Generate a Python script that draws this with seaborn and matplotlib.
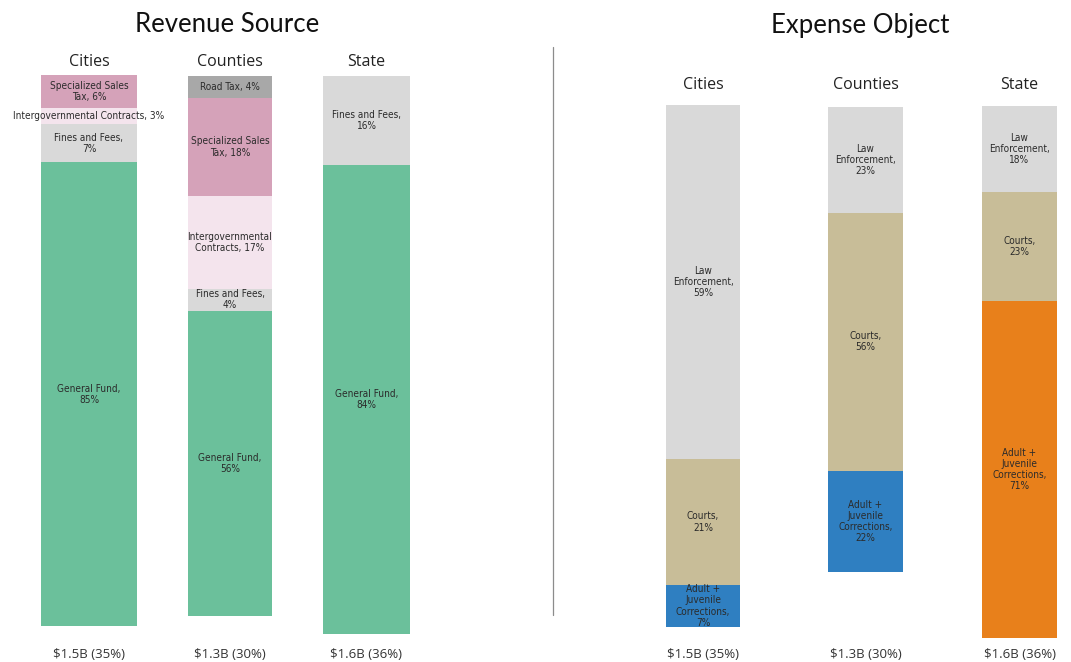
import matplotlib
matplotlib.use("Agg")
import matplotlib.pyplot as plt
from matplotlib import font_manager
import seaborn as sns

# ---- data -------------------------------------------------------------
# Revenue source shares (top of bar first)
rev_cities_names = ["Specialized Sales\nTax, ", "Intergovernmental Contracts, ", "Fines and Fees,\n", "General Fund,\n"]
rev_cities_values = [6, 3, 7, 85]
rev_counties_names = ["Road Tax, ", "Specialized Sales\nTax, ", "Intergovernmental\nContracts, ", "Fines and Fees,\n", "General Fund,\n"]
rev_counties_values = [4, 18, 17, 4, 56]
rev_state_names = ["Fines and Fees,\n", "General Fund,\n"]
rev_state_values = [16, 84]

# Expense object shares (top of bar first)
exp_cities_names = ["Law\nEnforcement,\n", "Courts,\n", "Adult +\nJuvenile\nCorrections,\n"]
exp_cities_values = [59, 21, 7]
exp_counties_names = ["Law\nEnforcement,\n", "Courts,\n", "Adult +\nJuvenile\nCorrections,\n"]
exp_counties_values = [23, 56, 22]
exp_state_names = ["Law\nEnforcement,\n", "Courts,\n", "Adult +\nJuvenile\nCorrections,\n"]
exp_state_values = [18, 23, 71]

group_names = ["Cities", "Counties", "State"]
totals = ["$1.5B (35%)", "$1.3B (30%)", "$1.6B (36%)"]

# ---- colours ----------------------------------------------------------
GREEN = "#6bc09b"
LIGHT_GRAY = "#d9d9d9"
PINK = "#d5a2b9"
PALE_PINK = "#f4e4ed"
DARK_GRAY = "#a8a8a8"
TAN = "#c8bd98"
BLUE = "#2f7fc1"
ORANGE = "#e8801b"

rev_cities_colors = [PINK, PALE_PINK, LIGHT_GRAY, GREEN]
rev_counties_colors = [DARK_GRAY, PINK, PALE_PINK, LIGHT_GRAY, GREEN]
rev_state_colors = [LIGHT_GRAY, GREEN]
exp_cities_colors = [LIGHT_GRAY, TAN, BLUE]
exp_counties_colors = [LIGHT_GRAY, TAN, BLUE]
exp_state_colors = [LIGHT_GRAY, TAN, ORANGE]

W, H = 1071, 662
sns.set_theme(style="white")
plt.rcParams["font.family"] = ["DejaVu Sans"]

fig = plt.figure(figsize=(W / 100, H / 100), dpi=100)
fig.patch.set_facecolor("white")

# narrow face for the segment labels
_names = {f.name for f in font_manager.fontManager.ttflist}
if "Liberation Sans Narrow" in _names:
    LABEL_KW = dict(family="Liberation Sans Narrow", fontsize=8.0)
else:
    LABEL_KW = dict(family="DejaVu Sans", fontstretch="condensed", fontsize=7.2)
TITLE_FONT = ["Lato", "DejaVu Sans"]
HEAD_FONT = ["Open Sans", "DejaVu Sans"]


def stacked_bar(box, names, values, colors, title, total, title_y, total_y):
    x0, y0, x1, y1 = box
    ax = fig.add_axes([x0 / W, 1 - y1 / H, (x1 - x0) / W, (y1 - y0) / H])
    whole = sum(values)
    bottom = 0
    # stack from the last segment (bottom) upward
    for name, val, col in reversed(list(zip(names, values, colors))):
        sns.barplot(x=["bar"], y=[val], bottom=bottom, width=1.0, color=col,
                    saturation=1, edgecolor="none", linewidth=0, ax=ax)
        ax.text(0, bottom + val / 2, f"{name}{val}%", ha="center", va="center",
                color="#2b2b2b", linespacing=1.15, clip_on=False, **LABEL_KW)
        bottom += val
    ax.set_xlim(-0.5, 0.5)
    ax.set_ylim(0, whole)
    ax.set_axis_off()
    cx = (x0 + x1) / 2 / W
    fig.text(cx, 1 - title_y / H, title, ha="center", va="center",
             fontsize=11.5, color="#222222", family=HEAD_FONT)
    fig.text(cx, 1 - total_y / H, total, ha="center", va="center",
             fontsize=9.5, color="#333333", family=HEAD_FONT)


# Revenue source panel
stacked_bar((41, 75, 137, 626), rev_cities_names, rev_cities_values, rev_cities_colors,
            group_names[0], totals[0], 62, 655)
stacked_bar((188, 76, 272, 616), rev_counties_names, rev_counties_values, rev_counties_colors,
            group_names[1], totals[1], 62, 655)
stacked_bar((323, 76, 410, 634), rev_state_names, rev_state_values, rev_state_colors,
            group_names[2], totals[2], 62, 655)

# Expense object panel
stacked_bar((666, 105, 740, 627), exp_cities_names, exp_cities_values, exp_cities_colors,
            group_names[0], totals[0], 85, 655)
stacked_bar((828, 107, 903, 572), exp_counties_names, exp_counties_values, exp_counties_colors,
            group_names[1], totals[1], 85, 655)
stacked_bar((982, 106, 1057, 638), exp_state_names, exp_state_values, exp_state_colors,
            group_names[2], totals[2], 85, 655)

fig.text(227 / W, 1 - 25 / H, "Revenue Source", ha="center", va="center",
         fontsize=18.5, color="#111111", family=TITLE_FONT)
fig.text(860 / W, 1 - 25 / H, "Expense Object", ha="center", va="center",
         fontsize=18.5, color="#111111", family=TITLE_FONT)

# divider between the two panels
fig.add_artist(plt.Line2D([553 / W, 553 / W], [1 - 47 / H, 1 - 615 / H],
                          transform=fig.transFigure, color="#8c8c8c", linewidth=0.9))

fig.savefig("out.png", dpi=100, facecolor="white")
